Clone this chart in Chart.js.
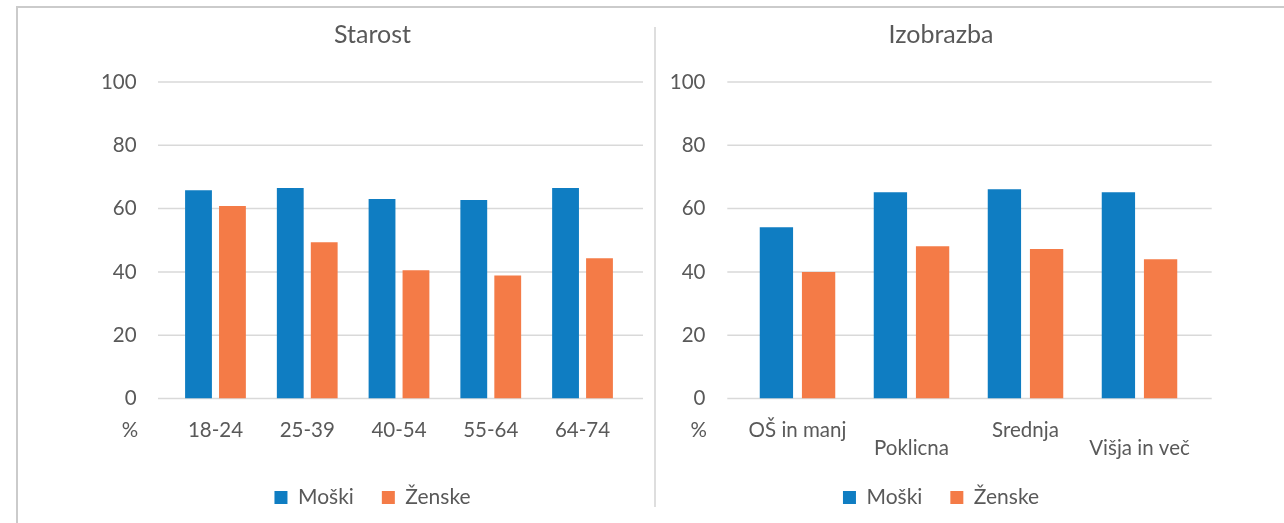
<!DOCTYPE html>
<html>
<head>
<meta charset="utf-8">
<script src="https://cdn.jsdelivr.net/npm/chart.js@4.4.1/dist/chart.umd.min.js"></script>
<style>
  html, body { margin: 0; padding: 0; background: #ffffff; width: 1284px; height: 523px; overflow: hidden; }
  body { position: relative; }
  .frame { position: absolute; left: 16px; top: 6px; width: 1400px; height: 700px;
           border-left: 2px solid #cbcbcb; border-top: 2px solid #cbcbcb; }
  .divider { position: absolute; left: 654px; top: 27px; width: 2px; height: 480px; background: #dedede; }
  canvas { position: absolute; top: 0; }
</style>
</head>
<body>
<div class="frame"></div>
<canvas id="ageChart" width="565" height="523" style="left:90px"></canvas>
<canvas id="eduChart" width="570" height="523" style="left:656px"></canvas>
<div class="divider"></div>
<script>
// Delež (%) po spolu – starostne skupine in izobrazba
const seriesNames = ['Moški', 'Ženske'];

const ageCategories = ['18-24', '25-39', '40-54', '55-64', '64-74'];
const ageMen   = [65.8, 66.5, 63.0, 62.7, 66.5];
const ageWomen = [60.8, 49.4, 40.5, 38.9, 44.3];

const eduCategories = ['OŠ in manj', 'Poklicna', 'Srednja', 'Višja in več'];
const eduMen   = [54.1, 65.2, 66.1, 65.2];
const eduWomen = [40.0, 48.1, 47.2, 44.0];

const yTicks = [0, 20, 40, 60, 80, 100];

const BLUE = '#0f7dc2';
const ORANGE = '#f47b47';
const TEXT = '#595959';
const GRID = '#d9d9d9';
const FONT = 'Lato';
const TICK_SIZE = 20.5;

Chart.defaults.font.family = FONT;
Chart.defaults.color = TEXT;

// Horizontal value grid that runs a little past the category band, plus the unit label
const valueGrid = {
  id: 'valueGrid',
  beforeDatasetsDraw(chart, args, opts) {
    const y = chart.scales.y;
    const area = chart.chartArea;
    const ctx = chart.ctx;
    ctx.save();
    ctx.strokeStyle = GRID;
    ctx.lineWidth = 1.5;
    y.ticks.forEach(t => {
      const py = y.getPixelForValue(t.value);
      ctx.beginPath();
      ctx.moveTo(area.left - opts.extendLeft, py);
      ctx.lineTo(area.right + opts.extendRight, py);
      ctx.stroke();
    });
    ctx.fillStyle = TEXT;
    ctx.font = TICK_SIZE + 'px ' + FONT;
    ctx.textAlign = 'right';
    ctx.textBaseline = 'middle';
    ctx.fillText(opts.unit, y.right - opts.labelGap + 1.5, area.bottom + 32);
    ctx.restore();
  }
};

// tick labels may extend past their scale box (staggered rows, side padding)
const noLabelClip = s => { s._computeLabelArea = () => undefined; };

function buildChart(id, title, categories, men, women, layout) {
  return new Chart(document.getElementById(id), {
    type: 'bar',
    data: {
      labels: categories,
      datasets: [
        { label: seriesNames[0], data: men, backgroundColor: BLUE,
          categoryPercentage: 0.74, barPercentage: 0.79 },
        { label: seriesNames[1], data: women, backgroundColor: ORANGE,
          categoryPercentage: 0.74, barPercentage: 0.79 }
      ]
    },
    options: {
      responsive: false,
      devicePixelRatio: 1,
      animation: false,
      layout: { padding: { left: layout.side, right: layout.side, top: 0, bottom: 5 } },
      scales: {
        x: {
          grid: { display: false, drawTicks: false },
          border: { display: false },
          ticks: {
            padding: 23,
            font: { size: TICK_SIZE, lineHeight: 0.87 },
            color: TEXT,
            maxRotation: 0,
            autoSkip: false,
            callback: function (value, index) {
              const label = this.getLabelForValue(value);
              return layout.stagger && index % 2 ? ['', label] : label;
            }
          },
          afterFit: s => { s.height = 60.5; noLabelClip(s); }
        },
        y: {
          min: 0,
          max: 100,
          grid: { display: false, drawTicks: false },
          border: { display: false },
          afterBuildTicks: s => { s.ticks = yTicks.map(v => ({ value: v })); },
          ticks: { padding: layout.labelGap, font: { size: TICK_SIZE }, color: TEXT },
          afterFit: s => { s.width = layout.axisWidth; noLabelClip(s); }
        }
      },
      plugins: {
        title: {
          display: true,
          text: title,
          color: TEXT,
          font: { size: 25, weight: 'normal', lineHeight: 1.2 },
          padding: { top: 20, bottom: 32 }
        },
        legend: {
          position: 'bottom',
          maxHeight: 64.5,
          labels: { boxWidth: 13, boxHeight: 13, padding: 28, color: TEXT, font: { size: 21 } }
        },
        tooltip: { enabled: false },
        valueGrid: {
          extendLeft: layout.extendLeft,
          extendRight: layout.extendRight,
          labelGap: layout.labelGap,
          unit: '%'
        }
      }
    },
    plugins: [valueGrid]
  });
}

buildChart('ageChart', 'Starost', ageCategories, ageMen, ageWomen,
  { side: 26.6, axisWidth: 53, labelGap: 33, extendLeft: 11.6, extendRight: 14.6, stagger: false });
buildChart('eduChart', 'Izobrazba', eduCategories, eduMen, eduWomen,
  { side: 29.5, axisWidth: 55, labelGap: 35, extendLeft: 13.2, extendRight: 15.2, stagger: true });
</script>
</body>
</html>
